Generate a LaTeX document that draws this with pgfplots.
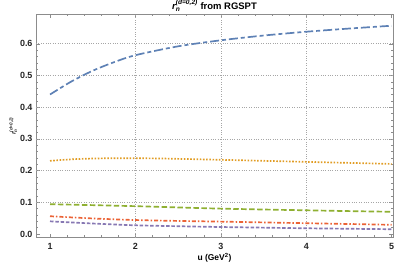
\documentclass[border=0pt]{standalone}
\usepackage{fontspec}
\setmainfont{Liberation Sans}
\setsansfont{Liberation Sans}
\usepackage{amsmath}
\usepackage{pgfplots}
\pgfplotsset{compat=1.18}
\definecolor{mblue}{rgb}{0.368417,0.506779,0.709798}
\definecolor{morange}{rgb}{0.880722,0.611041,0.142051}
\definecolor{mgreen}{rgb}{0.560181,0.691569,0.194885}
\definecolor{mred}{rgb}{0.922526,0.385626,0.209179}
\definecolor{mpurple}{rgb}{0.528488,0.470624,0.701351}
\newcommand{\rn}{$\text{\bfseries\itshape r}_{\text{\bfseries\itshape n}}^{\text{\bfseries\itshape (d=0,2)}}$}
\begin{document}
\begin{tikzpicture}[x=1bp,y=1bp]
\path[use as bounding box] (-36bp,-36.3bp) rectangle (363bp,237.7bp);
\begin{axis}[
  at={(0,0)}, anchor=south west,
  scale only axis, width=357bp, height=223.4bp,
  xmin=0.836, xmax=5.015, ymin=-0.0117, ymax=0.693,
  xtick={1,2,3,4,5}, ytick={0,0.1,0.2,0.3,0.4,0.5,0.6},
  xticklabels={1,2,3,4,5},
  yticklabels={0.0,0.1,0.2,0.3,0.4,0.5,0.6},
  minor x tick num=4, minor y tick num=4,
  tick align=inside,
  major tick length=4bp, minor tick length=2.2bp,
  every tick/.style={black!45, line width=0.5pt},
  axis line style={black!45, line width=0.6pt},
  tick label style={font=\bfseries\fontsize{9}{10}\selectfont, text=black!85},
  xticklabel style={yshift=-2bp},
  extra x ticks={2,3,4}, extra x tick labels={},
  extra y ticks={0.1,0.2,0.3,0.4,0.5,0.6}, extra y tick labels={},
  extra tick style={grid=major, major tick length=0pt},
  grid style={black!35, dotted, line width=0.6pt},
  title={\rn\ \textbf{from RGSPT}},
  title style={font=\fontsize{9.5}{11}\selectfont, yshift=-6.5bp},
  xlabel={\textbf{u (GeV\textsuperscript{2})}},
  xlabel style={font=\fontsize{8.5}{9}\selectfont, yshift=3bp},
  ylabel={\rn},
  ylabel style={font=\fontsize{6.5}{7}\selectfont, yshift=-4bp, text=black!85},
  clip=true,
]
\addplot[mblue, line width=1.7pt, dash pattern=on 9pt off 3pt on 4pt off 3pt, smooth] coordinates {
(1,0.440) (1.25,0.481) (1.5,0.515) (1.75,0.542) (2,0.564) (2.5,0.592) (3,0.611) (3.5,0.626) (4,0.638) (4.5,0.648) (5,0.657)};
\addplot[morange, line width=1.7pt, dash pattern=on 1.6pt off 1.6pt, smooth] coordinates {
(1,0.2306) (1.25,0.2355) (1.5,0.2380) (1.8,0.2390) (2.2,0.2385) (2.5,0.2370) (3,0.2340) (3.5,0.2308) (4,0.2275) (4.5,0.2243) (5,0.2210)};
\addplot[mgreen, line width=1.7pt, dash pattern=on 5.5pt off 2.5pt, smooth] coordinates {
(1,0.0940) (1.5,0.0910) (2,0.0877) (2.5,0.0838) (3,0.0800) (3.5,0.0772) (4,0.0747) (4.5,0.0722) (5,0.0700)};
\addplot[mred, line width=1.7pt, dash pattern=on 4pt off 2pt on 1.5pt off 2pt, smooth] coordinates {
(1,0.0560) (1.5,0.0490) (2,0.0440) (2.5,0.0412) (3,0.0390) (3.5,0.0365) (4,0.0340) (4.5,0.0315) (5,0.0290)};
\addplot[mpurple, line width=1.7pt, dash pattern=on 3.5pt off 1.8pt, smooth] coordinates {
(1,0.0400) (1.5,0.0330) (2,0.0274) (2.5,0.0245) (3,0.0220) (3.5,0.0200) (4,0.0180) (4.5,0.0165) (5,0.0150)};
\end{axis}
\end{tikzpicture}
\end{document}
